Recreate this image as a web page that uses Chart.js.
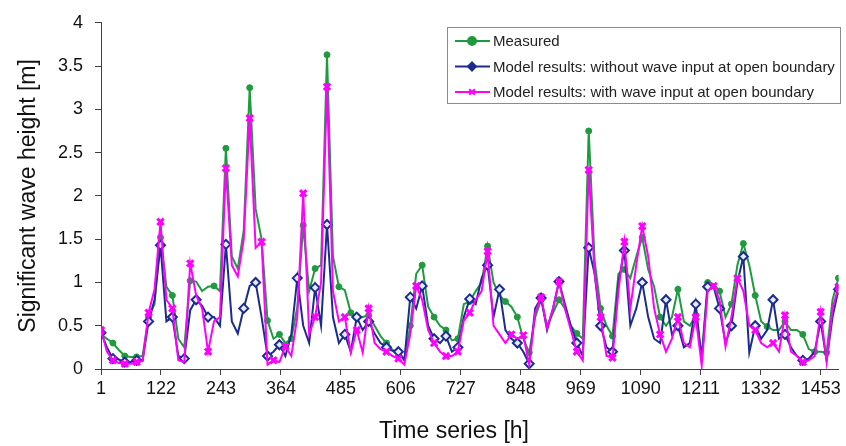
<!DOCTYPE html>
<html lang="en">
<head>
<meta charset="UTF-8">
<title>Significant wave height</title>
<script src="https://cdn.jsdelivr.net/npm/chart.js@4"></script>
<style>
  html, body { margin: 0; padding: 0; background: #fff; }
  #wrap { width: 846px; height: 446px; }
</style>
</head>
<body>
<div id="wrap"><canvas id="chart" width="846" height="446"></canvas></div>
<script>
// one reading every 12 hours, starting at hour 1
const stepHours = 12;
const tickHours = [1, 122, 243, 364, 485, 606, 727, 848, 969, 1090, 1211, 1332, 1453];

const measured = [
  0.40, 0.35, 0.30, 0.22, 0.15, 0.14, 0.14, 0.15, 0.60, 0.75,
  1.52, 0.95, 0.85, 0.35, 0.25, 1.02, 1.01, 0.90, 0.95, 0.96,
  0.90, 2.55, 1.30, 1.16, 1.60, 3.25, 1.85, 1.50, 0.56, 0.35,
  0.40, 0.30, 0.35, 0.71, 1.66, 0.90, 1.16, 1.20, 3.63, 1.30,
  0.95, 0.91, 0.65, 0.58, 0.60, 0.62, 0.50, 0.38, 0.30, 0.22,
  0.20, 0.11, 0.50, 1.10, 1.20, 0.72, 0.60, 0.50, 0.45, 0.33,
  0.35, 0.75, 0.78, 0.90, 1.00, 1.42, 1.00, 0.85, 0.78, 0.72,
  0.60, 0.35, 0.19, 0.60, 0.80, 0.50, 0.65, 0.80, 0.70, 0.50,
  0.41, 0.35, 2.75, 1.25, 0.70, 0.50, 0.38, 1.10, 1.15, 1.05,
  1.30, 1.52, 1.15, 0.95, 0.60, 0.50, 0.60, 0.92, 0.55, 0.50,
  0.62, 0.15, 1.00, 0.98, 0.90, 0.60, 0.75, 1.20, 1.45, 1.20,
  0.85, 0.55, 0.49, 0.45, 0.45, 0.55, 0.45, 0.45, 0.40, 0.23,
  0.20, 0.20, 0.19, 0.80, 1.05
];

const modelNoWave = [
  0.42, 0.25, 0.12, 0.11, 0.08, 0.08, 0.10, 0.10, 0.55, 0.80,
  1.43, 0.55, 0.60, 0.15, 0.12, 0.68, 0.80, 0.73, 0.60, 0.60,
  0.50, 1.44, 0.55, 0.41, 0.70, 0.96, 1.00, 0.60, 0.15, 0.20,
  0.28, 0.15, 0.40, 1.05, 0.50, 0.30, 0.94, 0.50, 1.67, 0.60,
  0.30, 0.40, 0.20, 0.60, 0.45, 0.55, 0.41, 0.30, 0.25, 0.21,
  0.20, 0.10, 0.83, 0.70, 0.96, 0.50, 0.35, 0.30, 0.38, 0.20,
  0.25, 0.60, 0.81, 0.75, 1.05, 1.20, 0.60, 0.92, 0.45, 0.35,
  0.30, 0.20, 0.06, 0.70, 0.82, 0.45, 0.70, 1.01, 0.75, 0.50,
  0.30, 0.15, 1.40, 1.10, 0.50, 0.25, 0.20, 1.00, 1.37, 0.50,
  0.70, 1.00, 0.60, 0.35, 0.30, 0.80, 0.40, 0.50, 0.25, 0.30,
  0.75, 0.10, 0.95, 0.95, 0.70, 0.30, 0.50, 1.00, 1.30, 0.19,
  0.50, 0.35, 0.45, 0.80, 0.35, 0.40, 0.25, 0.15, 0.10, 0.12,
  0.20, 0.55, 0.10, 0.60, 0.92
];

const modelWave = [
  0.45, 0.20, 0.10, 0.07, 0.06, 0.06, 0.08, 0.09, 0.65, 0.92,
  1.70, 0.80, 0.70, 0.10, 0.08, 1.22, 0.85, 0.70, 0.20, 0.55,
  0.60, 2.32, 1.20, 1.07, 1.50, 2.90, 1.40, 1.47, 0.05, 0.10,
  0.08, 0.26, 0.15, 0.60, 2.03, 0.40, 0.60, 1.00, 3.26, 0.90,
  0.55, 0.60, 0.19, 0.45, 0.19, 0.70, 0.30, 0.23, 0.20, 0.15,
  0.12, 0.05, 0.40, 0.96, 0.80, 0.45, 0.30, 0.20, 0.15, 0.15,
  0.20, 0.56, 0.65, 0.80, 0.90, 1.36, 0.50, 0.40, 0.30, 0.40,
  0.35, 0.39, 0.05, 0.65, 0.83, 0.47, 0.70, 1.01, 0.70, 0.45,
  0.20, 0.10, 2.30, 1.10, 0.60, 0.15, 0.13, 0.90, 1.47, 0.70,
  1.20, 1.65, 1.30, 0.70, 0.40, 0.20, 0.35, 0.60, 0.30, 0.25,
  0.60, 0.04, 0.90, 0.96, 0.80, 0.26, 0.60, 1.05, 0.90, 0.50,
  0.45, 0.30, 0.25, 0.30, 0.20, 0.62, 0.20, 0.15, 0.08, 0.10,
  0.15, 0.66, 0.08, 0.70, 0.95
];

const hours = measured.map((_, i) => 1 + stepHours * i);
const font = "'Liberation Sans', Arial, sans-serif";

function toPoints(vals) {
    return vals.map((v, i) => ({ x: hours[i], y: v }));
}

// markers on the peaks, plus every other reading that isn't next to a peak
function markerSet(vals) {
    const s = new Set();
    for (let i = 1; i < vals.length - 1; i++) {
        if (vals[i] > vals[i - 1] && vals[i] >= vals[i + 1]) s.add(i);
    }
    for (let i = 0; i < vals.length; i += 2) {
        if (!s.has(i - 1) && !s.has(i + 1)) s.add(i);
    }
    return s;
}

function makeSet(label, vals, color, style, radius, fill, bw, order) {
    const marks = markerSet(vals);
    return {
        label: label,
        data: toPoints(vals),
        borderColor: color,
        borderWidth: 2,
        pointStyle: style,
        pointBackgroundColor: fill,
        pointBorderColor: color,
        pointBorderWidth: bw,
        pointRadius: ctx => marks.has(ctx.dataIndex) ? radius : 0,
        tension: 0,
        order: order
    };
}

// legend box inside the plot + x axis title (Excel puts it a bit left of centre)
const extras = {
    id: 'extras',
    afterDraw(chart) {
        const ctx = chart.ctx;
        ctx.save();
        ctx.fillStyle = '#fff';
        ctx.fillRect(447.5, 27.5, 393, 76);
        ctx.strokeStyle = '#8c8c8c';
        ctx.lineWidth = 1;
        ctx.strokeRect(447.5, 27.5, 393, 76);
        chart.data.datasets.forEach((ds, i) => {
            const y = 41 + i * 25.5;
            ctx.strokeStyle = ds.borderColor;
            ctx.lineWidth = 2;
            ctx.beginPath();
            ctx.moveTo(455, y);
            ctx.lineTo(490, y);
            ctx.stroke();
            ctx.fillStyle = ds.borderColor;
            Chart.helpers.drawPoint(ctx, {
                pointStyle: ds.pointStyle, radius: 4, borderWidth: ds.pointBorderWidth, rotation: 0
            }, 472, y);
            ctx.fillStyle = '#222';
            ctx.font = '15px ' + font;
            ctx.textBaseline = 'middle';
            ctx.textAlign = 'left';
            ctx.fillText(ds.label, 493, y + 1);
        });

        ctx.fillStyle = '#111';
        ctx.font = '23px ' + font;
        ctx.textAlign = 'center';
        ctx.textBaseline = 'middle';
        ctx.fillText('Time series [h]', 454, 432);
        ctx.restore();
    }
};

new Chart(document.getElementById('chart'), {
    type: 'line',
    data: {
        datasets: [
            makeSet('Measured', measured, '#1f9a3e', 'circle', 3, '#1f9a3e', 1, 2),
            makeSet('Model results: without wave input at open boundary', modelNoWave, '#1a2d8f', 'rectRot', 4.5, '#e8ecff', 2, 1),
            makeSet('Model results: with wave input at open boundary', modelWave, '#ff00ff', 'crossRot', 4.5, '#ff00ff', 3, 0)
        ]
    },
    options: {
        responsive: false,
        animation: false,
        devicePixelRatio: 1,
        layout: { padding: { top: 18, right: 1, left: 0, bottom: 0 } },
        plugins: { legend: { display: false }, tooltip: { enabled: false } },
        scales: {
            x: {
                type: 'linear',
                min: 1,
                max: 1489,
                afterBuildTicks: s => { s.ticks = tickHours.map(v => ({ value: v })); },
                afterFit: s => { s.height = 77; s.paddingLeft = 0; s.paddingRight = 0; },
                grid: { drawOnChartArea: false, drawTicks: true, tickLength: 6, color: '#404040' },
                border: { color: '#404040', width: 1 },
                ticks: {
                    autoSkip: false, maxRotation: 0, padding: 3, color: '#111',
                    font: { size: 18, family: font },
                    callback: v => String(v)
                },
                title: { display: false }
            },
            y: {
                min: 0,
                max: 4,
                afterFit: s => { s.width = 101; },
                grid: { drawOnChartArea: false, drawTicks: true, tickLength: 6, color: '#404040' },
                border: { color: '#404040', width: 1 },
                ticks: {
                    stepSize: 0.5, padding: 12, color: '#111',
                    font: { size: 18, family: font },
                    callback: v => String(v)
                },
                title: { display: true, text: 'Significant wave height [m]', color: '#111', font: { size: 23, family: font }, padding: { top: 15, bottom: 0 } }
            }
        }
    },
    plugins: [extras]
});
</script>
</body>
</html>
